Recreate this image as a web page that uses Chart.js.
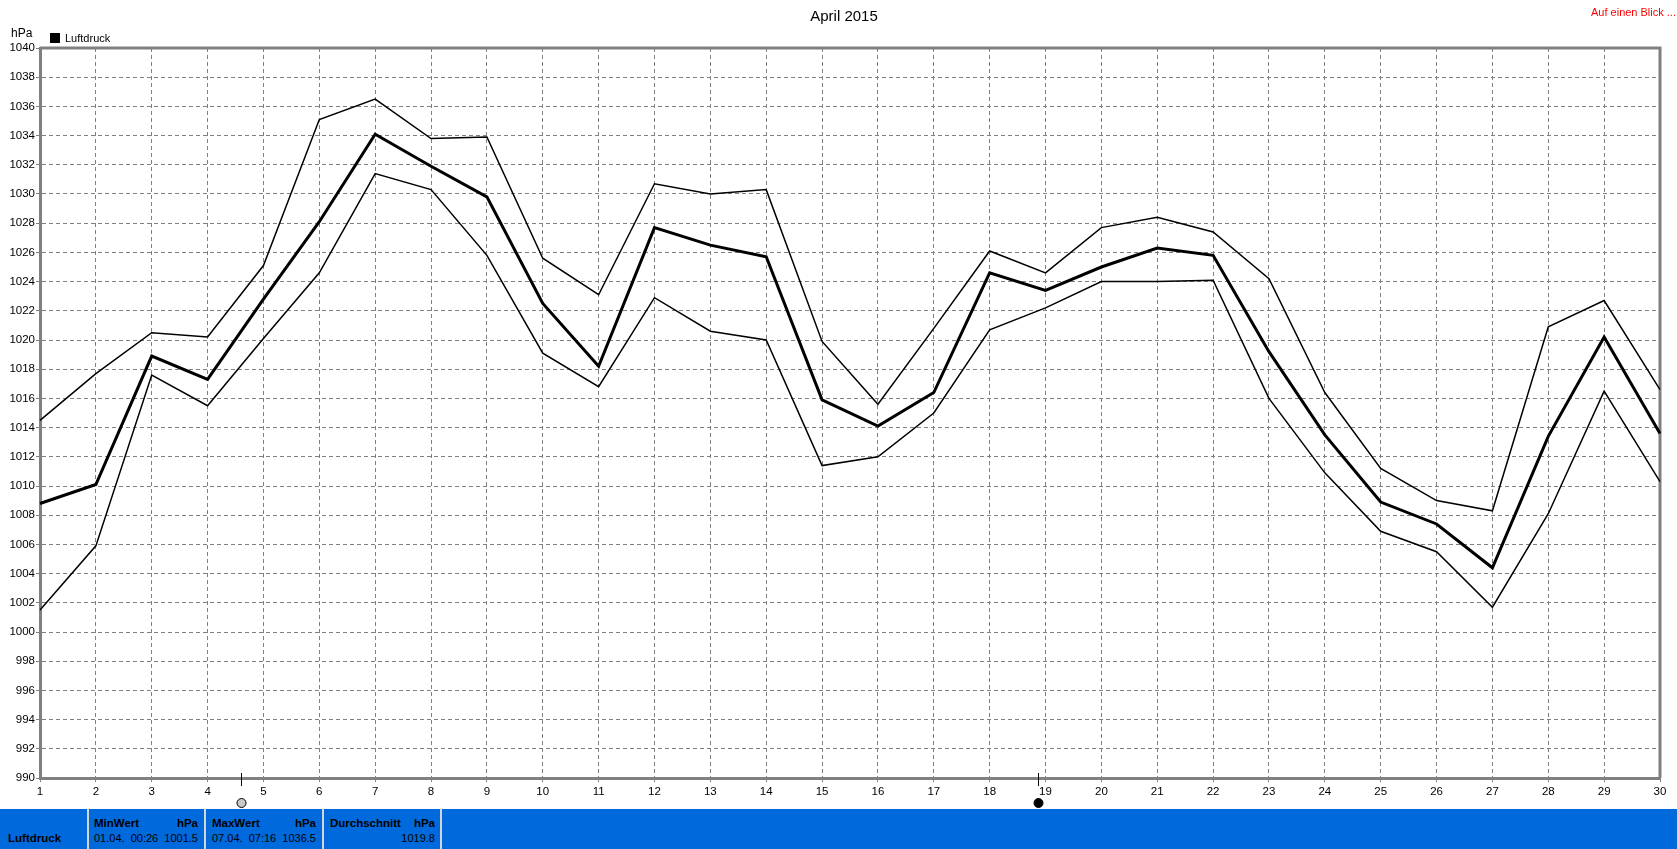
<!DOCTYPE html>
<html>
<head>
<meta charset="utf-8">
<title>April 2015</title>
<script src="https://cdn.jsdelivr.net/npm/chart.js@4"></script>
<style>
    html, body { margin: 0; padding: 0; background: #fff; overflow: hidden; }
    body { width: 1677px; height: 849px; position: relative; font-family: "Liberation Sans", Arial, sans-serif; font-size: 11px; color: #000; }
    canvas { position: absolute; left: 0; top: 0; }
    .txt { position: absolute; white-space: nowrap; line-height: 14px; }
    #footer { position: absolute; left: 0; top: 809px; width: 1677px; height: 40px; background: #0069dc; }
    .sep { position: absolute; top: 0; width: 2px; height: 40px; background: #d4d4d4; }
    .b { font-weight: bold; font-size: 11.5px; }
</style>
</head>
<body>
<canvas id="myChart" width="1677" height="849"></canvas>

<div class="txt" style="left:0;width:1677px;top:7px;text-align:center;font-size:15px;line-height:17px;padding-left:11px;box-sizing:border-box">April 2015</div>
<div class="txt" style="right:1px;top:5px;color:#f00">Auf einen Blick ...</div>
<div class="txt" style="left:11px;top:26px;font-size:12px">hPa</div>
<div style="position:absolute;left:50px;top:33px;width:10px;height:10px;background:#000"></div>
<div class="txt" style="left:65px;top:31px">Luftdruck</div>

<div id="footer">
    <div class="sep" style="left:87px"></div>
    <div class="sep" style="left:204px"></div>
    <div class="sep" style="left:322px"></div>
    <div class="sep" style="left:440px"></div>
    <div class="txt b" style="left:8px;top:22px">Luftdruck</div>
    <div class="txt b" style="left:94px;top:7px">MinWert</div>
    <div class="txt b" style="right:1479px;top:7px">hPa</div>
    <div class="txt" style="left:94px;top:22px">01.04.&nbsp; 00:26</div>
    <div class="txt" style="right:1479px;top:22px">1001.5</div>
    <div class="txt b" style="left:212px;top:7px">MaxWert</div>
    <div class="txt b" style="right:1361px;top:7px">hPa</div>
    <div class="txt" style="left:212px;top:22px">07.04.&nbsp; 07:16</div>
    <div class="txt" style="right:1361px;top:22px">1036.5</div>
    <div class="txt b" style="left:330px;top:7px">Durchschnitt</div>
    <div class="txt b" style="right:1242px;top:7px">hPa</div>
    <div class="txt" style="right:1242px;top:22px">1019.8</div>
</div>

<script>
const days = ["1","2","3","4","5","6","7","8","9","10","11","12","13","14","15","16","17","18","19","20","21","22","23","24","25","26","27","28","29","30"];
const maxValues = [1014.5,1017.7,1020.5,1020.2,1025.1,1035.1,1036.5,1033.8,1033.9,1025.6,1023.1,1030.7,1030.0,1030.3,1019.9,1015.6,1020.8,1026.1,1024.6,1027.7,1028.4,1027.4,1024.2,1016.4,1011.2,1009.0,1008.3,1020.9,1022.7,1016.6];
const meanValues = [1008.8,1010.1,1018.9,1017.3,1022.8,1028.1,1034.1,1031.9,1029.8,1022.5,1018.2,1027.7,1026.5,1025.7,1015.9,1014.1,1016.4,1024.6,1023.4,1025.0,1026.3,1025.8,1019.2,1013.5,1008.9,1007.4,1004.4,1013.4,1020.2,1013.6];
const minValues = [1001.5,1005.9,1017.6,1015.5,1020.1,1024.6,1031.4,1030.3,1025.8,1019.1,1016.8,1022.9,1020.6,1020.0,1011.4,1012.0,1015.0,1020.7,1022.2,1024.0,1024.0,1024.1,1016.0,1010.9,1006.9,1005.5,1001.7,1008.1,1016.5,1010.3];
// moon phases, as day positions on the x axis
const fullMoonDays = [4.59];
const newMoonDays = [18.87];

const GREY = "#808080";

// frame on top and right, moon marks below the axis
const extras = {
    id: "extras",
    beforeDatasetsDraw(chart) {
        const ctx = chart.ctx;
        const a = chart.chartArea;
        ctx.save();
        ctx.strokeStyle = GREY;
        ctx.lineWidth = 3;
        ctx.beginPath();
        ctx.moveTo(a.left, a.top);
        ctx.lineTo(a.right, a.top);
        ctx.lineTo(a.right, a.bottom);
        ctx.stroke();
        ctx.restore();
    },
    afterDraw(chart) {
        const ctx = chart.ctx;
        const x = chart.scales.x;
        const a = chart.chartArea;
        const mark = (d, fill) => {
            const px = Math.round(x.getPixelForValue(d - 1)) + 0.5;
            ctx.strokeStyle = "#000";
            ctx.lineWidth = 1;
            ctx.beginPath();
            ctx.moveTo(px, a.bottom - 5);
            ctx.lineTo(px, a.bottom + 8);
            ctx.stroke();
            ctx.fillStyle = fill;
            ctx.beginPath();
            ctx.arc(px, a.bottom + 25, 4.5, 0, Math.PI * 2);
            ctx.fill();
            ctx.stroke();
        };
        ctx.save();
        fullMoonDays.forEach(d => mark(d, "#c8c8c8"));
        newMoonDays.forEach(d => mark(d, "#000"));
        ctx.restore();
    }
};

const line = (label, data, width) => ({
    label: label,
    data: data,
    borderColor: "#000",
    backgroundColor: "#000",
    borderWidth: width,
    pointRadius: 0,
    tension: 0
});

new Chart(document.getElementById("myChart").getContext("2d"), {
    type: "line",
    data: {
        labels: days,
        datasets: [
            line("Max", maxValues, 1.5),
            line("Luftdruck", meanValues, 3),
            line("Min", minValues, 1.5)
        ]
    },
    options: {
        responsive: false,
        animation: false,
        maintainAspectRatio: false,
        layout: { padding: { left: 0, right: 17, top: 48, bottom: 0 } },
        plugins: {
            legend: { display: false },
            title: { display: false },
            tooltip: { enabled: false }
        },
        scales: {
            x: {
                type: "category",
                offset: false,
                afterFit(scale) { scale.height = 71; },
                border: { color: GREY, width: 3, dash: [4, 3] },
                grid: { color: GREY, tickColor: GREY, tickLength: 4 },
                ticks: {
                    color: "#000",
                    font: { family: "Liberation Sans", size: 11.5 },
                    autoSkip: false,
                    maxRotation: 0,
                    padding: 3
                }
            },
            y: {
                min: 990,
                max: 1040,
                afterFit(scale) { scale.width = 40; },
                border: { color: GREY, width: 3, dash: [4, 3] },
                grid: { color: GREY, tickColor: GREY, tickLength: 4 },
                ticks: {
                    stepSize: 2,
                    color: "#000",
                    font: { family: "Liberation Sans", size: 11.5 },
                    autoSkip: false,
                    padding: 1,
                    callback: v => String(v)
                }
            }
        }
    },
    plugins: [extras]
});
</script>
</body>
</html>
